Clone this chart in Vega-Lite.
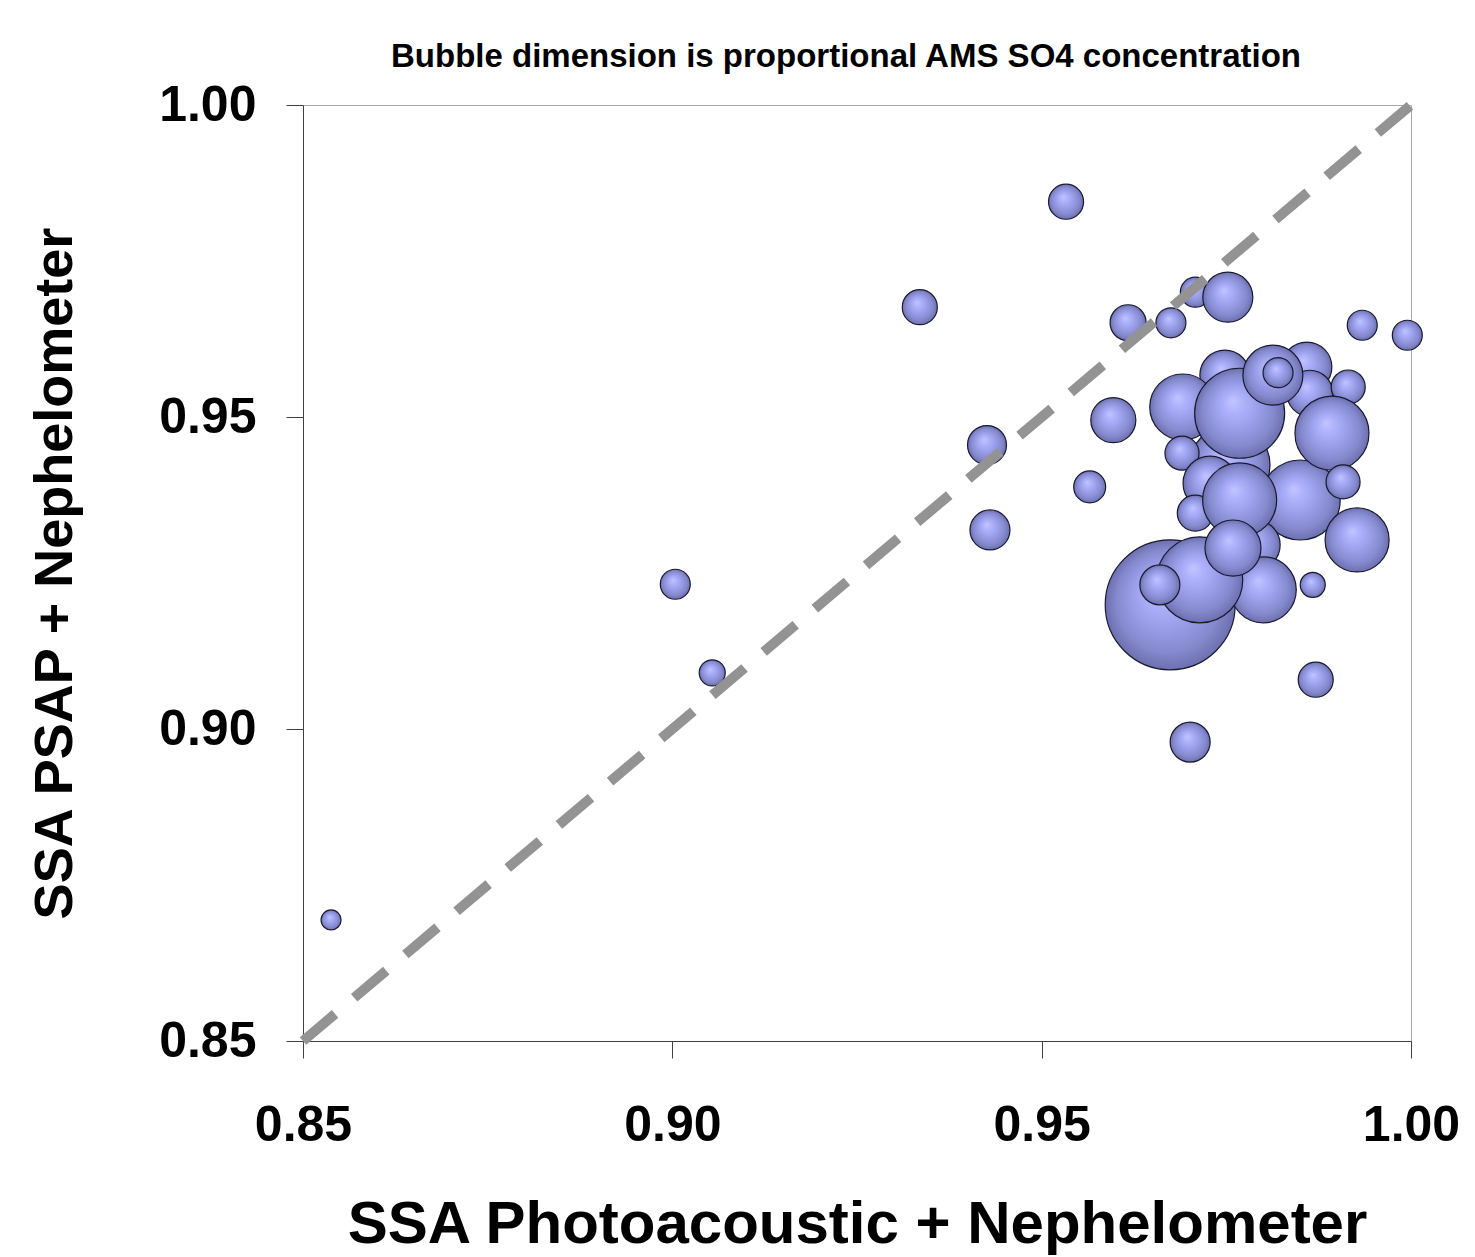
{
  "$schema": "https://vega.github.io/schema/vega-lite/v6.json",
  "width": 1108,
  "height": 936,
  "autosize": {"type": "none"},
  "padding": {"left": 303, "top": 105, "right": 64, "bottom": 216},
  "background": "white",
  "config": {
    "view": {"stroke": "#a8a8a8", "strokeWidth": 1},
    "font": "Liberation Sans",
    "axis": {
      "grid": false,
      "domainColor": "#404040",
      "tickColor": "#404040",
      "tickSize": 17,
      "labelFont": "Liberation Sans",
      "labelFontWeight": "bold",
      "labelFontSize": 50,
      "labelColor": "black",
      "labelFlush": false,
      "labelOverlap": false,
      "titleFont": "Liberation Sans",
      "titleFontWeight": "bold",
      "titleColor": "black"
    }
  },
  "title": {
    "text": "Bubble dimension is proportional AMS SO4 concentration",
    "font": "Liberation Sans",
    "fontWeight": "bold",
    "fontSize": 33,
    "color": "black",
    "anchor": "middle",
    "frame": "group",
    "dx": -11,
    "offset": 6
  },
  "datasets": {
    "bubbles": [
      {"ssa_pa": 0.9748, "ssa_psap": 0.9567, "so4": 2.50},
      {"ssa_pa": 0.9755, "ssa_psap": 0.9423, "so4": 6.40},
      {"ssa_pa": 0.9859, "ssa_psap": 0.9580, "so4": 2.50},
      {"ssa_pa": 0.9863, "ssa_psap": 0.9538, "so4": 2.12},
      {"ssa_pa": 0.9691, "ssa_psap": 0.9516, "so4": 4.36},
      {"ssa_pa": 0.9768, "ssa_psap": 0.9506, "so4": 8.10},
      {"ssa_pa": 0.9813, "ssa_psap": 0.9567, "so4": 3.60},
      {"ssa_pa": 0.9820, "ssa_psap": 0.9571, "so4": 0.90},
      {"ssa_pa": 0.9915, "ssa_psap": 0.9548, "so4": 1.16},
      {"ssa_pa": 0.9850, "ssa_psap": 0.9367, "so4": 6.40},
      {"ssa_pa": 0.9893, "ssa_psap": 0.9474, "so4": 5.48},
      {"ssa_pa": 0.9908, "ssa_psap": 0.9396, "so4": 1.16},
      {"ssa_pa": 0.9690, "ssa_psap": 0.9442, "so4": 1.16},
      {"ssa_pa": 0.9789, "ssa_psap": 0.9295, "so4": 2.50},
      {"ssa_pa": 0.9728, "ssa_psap": 0.9394, "so4": 2.92},
      {"ssa_pa": 0.9708, "ssa_psap": 0.9346, "so4": 1.30},
      {"ssa_pa": 0.9768, "ssa_psap": 0.9367, "so4": 5.48},
      {"ssa_pa": 0.9927, "ssa_psap": 0.9303, "so4": 4.10},
      {"ssa_pa": 0.9674, "ssa_psap": 0.9199, "so4": 16.90},
      {"ssa_pa": 0.9800, "ssa_psap": 0.9223, "so4": 4.36},
      {"ssa_pa": 0.9714, "ssa_psap": 0.9239, "so4": 7.40},
      {"ssa_pa": 0.9759, "ssa_psap": 0.9290, "so4": 3.14},
      {"ssa_pa": 0.9660, "ssa_psap": 0.9231, "so4": 1.60},
      {"ssa_pa": 0.9867, "ssa_psap": 0.9231, "so4": 0.63},
      {"ssa_pa": 0.9871, "ssa_psap": 0.9079, "so4": 1.23},
      {"ssa_pa": 0.9701, "ssa_psap": 0.8979, "so4": 1.60},
      {"ssa_pa": 0.9617, "ssa_psap": 0.9651, "so4": 1.30},
      {"ssa_pa": 0.9675, "ssa_psap": 0.9651, "so4": 0.90},
      {"ssa_pa": 0.9708, "ssa_psap": 0.9700, "so4": 0.90},
      {"ssa_pa": 0.9752, "ssa_psap": 0.9692, "so4": 2.50},
      {"ssa_pa": 0.9934, "ssa_psap": 0.9647, "so4": 0.90},
      {"ssa_pa": 0.9995, "ssa_psap": 0.9631, "so4": 0.90},
      {"ssa_pa": 0.9597, "ssa_psap": 0.9495, "so4": 2.03},
      {"ssa_pa": 0.9565, "ssa_psap": 0.9388, "so4": 1.02},
      {"ssa_pa": 0.9533, "ssa_psap": 0.9845, "so4": 1.23},
      {"ssa_pa": 0.9335, "ssa_psap": 0.9676, "so4": 1.23},
      {"ssa_pa": 0.9426, "ssa_psap": 0.9455, "so4": 1.52},
      {"ssa_pa": 0.9430, "ssa_psap": 0.9319, "so4": 1.60},
      {"ssa_pa": 0.9004, "ssa_psap": 0.9232, "so4": 0.90},
      {"ssa_pa": 0.9054, "ssa_psap": 0.9090, "so4": 0.68},
      {"ssa_pa": 0.8538, "ssa_psap": 0.8694, "so4": 0.40}
    ],
    "oneToOne": [
      {"ssa_pa": 0.85, "ssa_psap": 0.85},
      {"ssa_pa": 1.00, "ssa_psap": 1.00}
    ]
  },
  "layer": [
    {
      "data": {"name": "bubbles"},
      "mark": {
        "type": "point",
        "shape": "circle",
        "filled": true,
        "opacity": 1,
        "fill": {
          "gradient": "radial",
          "x1": 0.42, "y1": 0.36, "r1": 0,
          "x2": 0.5, "y2": 0.5, "r2": 0.5,
          "stops": [
            {"offset": 0, "color": "#c2c5ff"},
            {"offset": 0.2, "color": "#b0b3fc"},
            {"offset": 0.5, "color": "#9a9ee8"},
            {"offset": 0.8, "color": "#8488cc"},
            {"offset": 1, "color": "#6c70b0"}
          ]
        },
        "stroke": "#1a1a2e",
        "strokeWidth": 1.2
      },
      "encoding": {
        "x": {
          "field": "ssa_pa", "type": "quantitative",
          "scale": {"domain": [0.85, 1.0], "zero": false, "nice": false},
          "axis": {
            "values": [0.85, 0.9, 0.95, 1.0],
            "format": ".2f",
            "title": "SSA Photoacoustic + Nephelometer",
            "titleFontSize": 60,
            "labelPadding": 42,
            "titlePadding": 45
          }
        },
        "y": {
          "field": "ssa_psap", "type": "quantitative",
          "scale": {"domain": [0.85, 1.0], "zero": false, "nice": false},
          "axis": {
            "values": [0.85, 0.9, 0.95, 1.0],
            "format": ".2f",
            "title": "SSA PSAP + Nephelometer",
            "titleFontSize": 54,
            "labelPadding": 30,
            "titlePadding": 76
          }
        },
        "size": {
          "field": "so4", "type": "quantitative",
          "scale": {"type": "linear", "domain": [0, 20], "range": [0, 20000], "zero": true},
          "legend": null
        }
      }
    },
    {
      "data": {"name": "oneToOne"},
      "mark": {
        "type": "line",
        "color": "#939393",
        "strokeWidth": 10,
        "strokeDash": [42, 25],
        "strokeCap": "butt"
      },
      "encoding": {
        "x": {"field": "ssa_pa", "type": "quantitative"},
        "y": {"field": "ssa_psap", "type": "quantitative"}
      }
    }
  ]
}
